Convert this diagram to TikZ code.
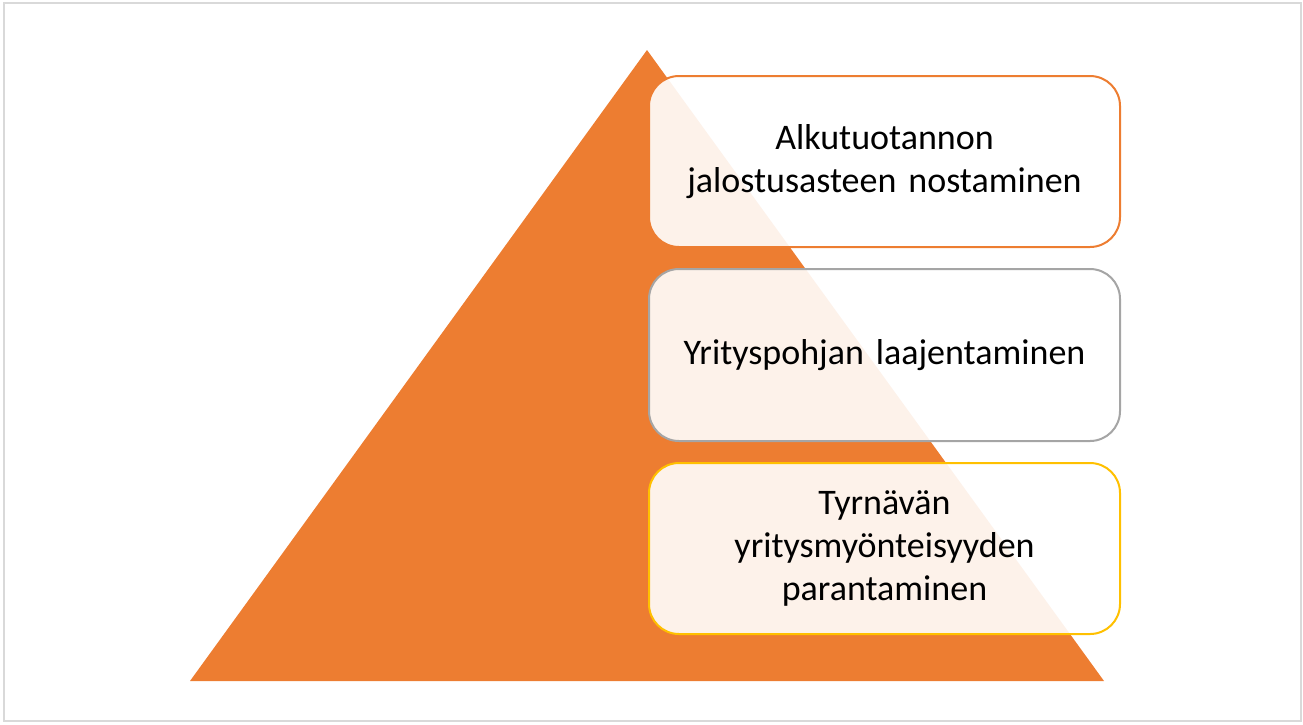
\documentclass[tikz,border=0pt]{standalone}
\usepackage{fontspec}
\setmainfont{Carlito}
\definecolor{accorange}{HTML}{ED7D31}
\definecolor{accgray}{HTML}{A5A5A5}
\definecolor{accyellow}{HTML}{FFC000}
\definecolor{frame}{HTML}{D9D9D9}
\begin{document}
\begin{tikzpicture}[x=1pt,y=-1pt,
  lvl/.style={draw, line width=2pt, rounded corners=30pt, fill=white, fill opacity=0.9, text opacity=1,
    minimum width=471pt, minimum height=171pt, align=center, font=\fontsize{36}{43}\selectfont, anchor=north west, inner sep=0pt, text width=450pt}]
\useasboundingbox (0,0) rectangle (1303,724);
\draw[frame, line width=2pt] (4,3) rectangle (1301,721);
\fill[accorange] (647,50) -- (1104,681) -- (190,681) -- cycle;
\node[lvl, draw=accorange] (l1) at (648,75) {Alkutuotannon\\jalostusasteen nostaminen};
\node[lvl, draw=accgray, minimum height=172pt] (l2) at (648,268) {Yrityspohjan laajentaminen};
\node[lvl, draw=accyellow] (l3) at (648,462) {Tyrnävän\\yritysmyönteisyyden\\parantaminen};
\end{tikzpicture}
\end{document}
